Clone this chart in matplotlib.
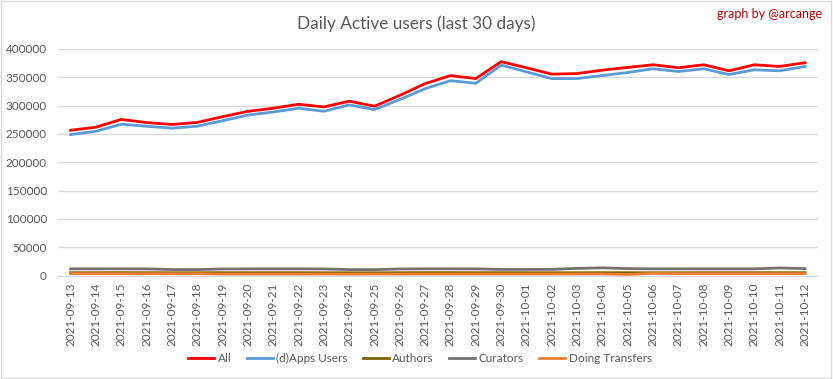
import matplotlib.pyplot as plt
import numpy as np
import pandas as pd

dates = pd.date_range("2021-09-13", "2021-10-12").strftime("%Y-%m-%d").tolist()

all_users = [256400, 261800, 275500, 270000, 266600, 270200, 280400, 289800, 295200, 302300,
             297600, 307700, 298800, 317900, 338700, 352900, 347600, 377400, 366700, 355400,
             356500, 362500, 367300, 372000, 366700, 372000, 361300, 372000, 369000, 375600]
apps_users = [248800, 254600, 267000, 263500, 260000, 263600, 273200, 283200, 288600, 295200,
              289900, 301200, 292900, 310700, 329800, 343900, 339300, 371400, 359500, 347600,
              347600, 353000, 358300, 364900, 360100, 364900, 354800, 363100, 361300, 369000]
authors = [5000, 5000, 5100, 5000, 4900, 4900, 5000, 5000, 5000, 5000,
           4900, 4800, 4800, 5000, 5100, 5100, 5000, 5000, 5000, 4900,
           4900, 5000, 5000, 4800, 4900, 5000, 5000, 5000, 5000, 5000]
curators = [11800, 11800, 11800, 11700, 10600, 10500, 11600, 11700, 11800, 11800,
            11600, 10500, 10400, 11600, 11800, 11800, 11700, 10800, 10800, 10900,
            12600, 13600, 12200, 11800, 11800, 11800, 11800, 11800, 13400, 12200]
transfers = [3400, 3400, 3400, 3300, 3400, 3300, 2600, 2600, 2600, 2600,
             2600, 2500, 2600, 2600, 2700, 2700, 2700, 2700, 2700, 2700,
             2800, 2800, 1800, 3900, 3400, 3400, 3400, 3400, 3400, 3400]

series_names = ["All", "(d)Apps Users", "Authors", "Curators", "Doing Transfers"]
colors = ["#FF0000", "#5B9BD5", "#7F6000", "#767171", "#ED7D31"]

plt.rcParams['font.family'] = ['Lato', 'DejaVu Sans']

fig = plt.figure(figsize=(8.33, 3.79), dpi=100)
ax = fig.add_axes([0.0696, 0.273, 0.912, 0.598])

x = np.arange(len(dates))
for vals, name, c in zip([all_users, apps_users, authors, curators, transfers], series_names, colors):
    ax.plot(x, vals, color=c, lw=2, label=name, solid_joinstyle='round')

ax.set_xlim(-0.5, len(dates) - 0.5)
ax.set_ylim(0, 400000)
ax.set_yticks(np.arange(0, 400001, 50000))
ax.set_xticks(x)
ax.set_xticklabels(dates, rotation=90, fontsize=8.5, color="#595959")
ax.tick_params(axis='y', labelsize=8.5, labelcolor="#595959", length=0, pad=8)
ax.tick_params(axis='x', length=0, pad=5)
ax.grid(axis='y', color="#D9D9D9", lw=1)
ax.set_axisbelow(True)
for s in ["top", "right", "left"]:
    ax.spines[s].set_visible(False)
ax.spines["bottom"].set_color("#D9D9D9")

fig.text(0.5, 0.938, "Daily Active users (last 30 days)", ha="center", va="center",
         fontsize=12.4, color="#595959")
fig.text(0.987, 0.962, "graph by @arcange", ha="right", va="center", fontsize=9, color="#C00000")

fig.legend(loc="center", bbox_to_anchor=(0.504, 0.055), ncol=5, frameon=False, fontsize=8.5,
           handlelength=2.2, handletextpad=0.3, columnspacing=1.3, labelcolor="#595959")

fig.patches.append(plt.Rectangle((0.001, 0.002), 0.997, 0.995, transform=fig.transFigure,
                                 fill=False, edgecolor="#D9D9D9", lw=1))

fig.savefig("out.png", dpi=100)
